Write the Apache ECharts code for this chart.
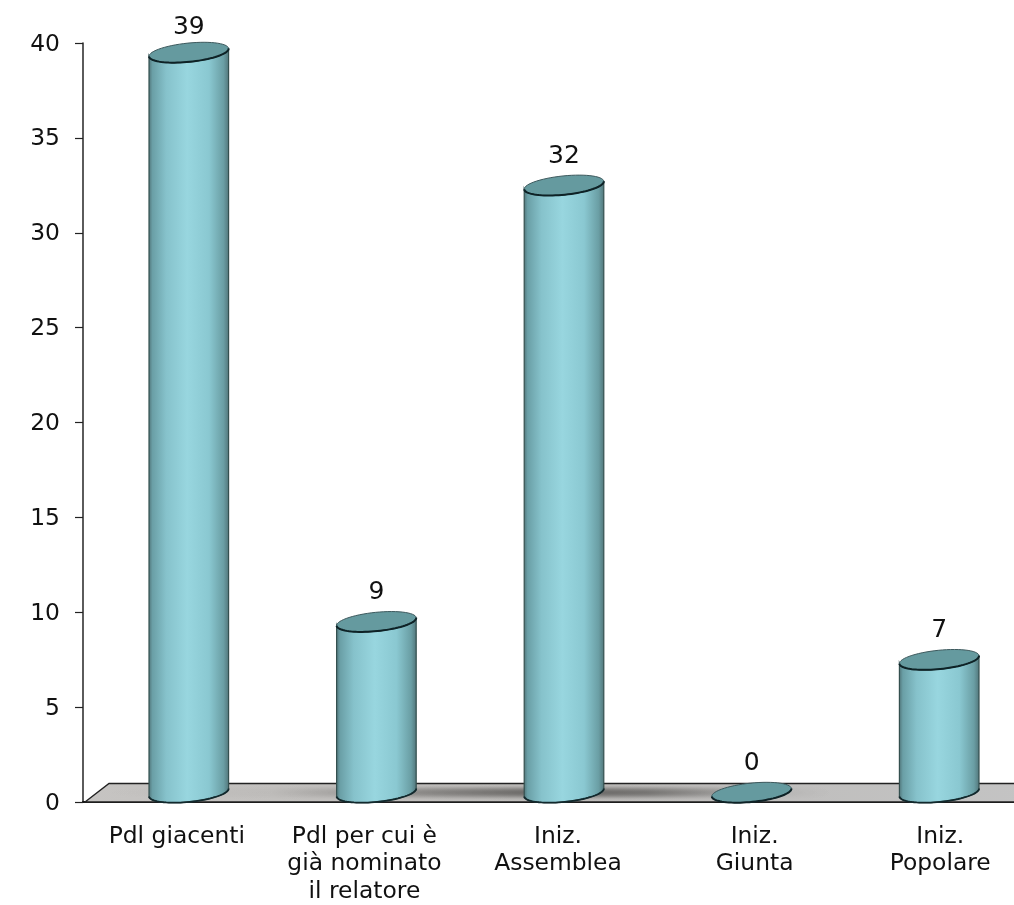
<!DOCTYPE html>
<html><head><meta charset="utf-8">
<style>html,body{margin:0;padding:0;background:#fff;overflow:hidden}#c{width:1014px;height:905px}</style>
<script src="https://cdn.jsdelivr.net/npm/echarts@6/dist/echarts.min.js"></script>
</head><body><div id="c"></div>
<script>
const categories = ['Pdl giacenti', 'Pdl per cui è\ngià nominato\nil relatore', 'Iniz.\nAssemblea', 'Iniz.\nGiunta', 'Iniz.\nPopolare'];
const values = [39, 9, 32, 0, 7];
const labelShift = [0, 0, 6, 15, 13];
const FONT = '"DejaVu Sans", Verdana, sans-serif';
const DX = 12, DY = -9.5, RX = 40, RY = 9.4, TILT = -5.8 * Math.PI / 180;

function ell(cx, cy, from, to, n) {
  const pts = [], c = Math.cos(TILT), s = Math.sin(TILT);
  for (let i = 0; i <= n; i++) {
    const t = from + (to - from) * i / n;
    const x = RX * Math.cos(t), y = RY * Math.sin(t);
    pts.push([cx + x * c - y * s, cy + x * s + y * c]);
  }
  return pts;
}
const body = new echarts.graphic.LinearGradient(0, 0, 1, 0, [
  {offset: 0, color: '#4f7276'}, {offset: 0.05, color: '#6a9fa6'}, {offset: 0.22, color: '#86c2cb'},
  {offset: 0.48, color: '#98d6df'}, {offset: 0.75, color: '#8ac8d1'}, {offset: 0.93, color: '#6a9ea4'}, {offset: 1, color: '#517478'}
]);

function renderCyl(params, api) {
  const v = api.value(1);
  const top = api.coord([api.value(0), v]);
  const bot = api.coord([api.value(0), 0]);
  const cx = top[0] + DX, ty = top[1] + DY, by = bot[1] + DY;
  const children = [];
  if (v > 0) {
    const side = ell(cx, ty, Math.PI, 0, 32).concat(ell(cx, by, 0, Math.PI, 40));
    children.push({type: 'polygon', shape: {points: side}, style: {fill: body, stroke: '#34504f', lineWidth: 1.2}});
    children.push({type: 'polyline', shape: {points: ell(cx, by, 0, Math.PI, 40)}, style: {fill: null, stroke: '#12282c', lineWidth: 1.8}});
  }
  children.push({type: 'polygon', shape: {points: ell(cx, ty, 0, Math.PI * 2, 60)}, style: {fill: '#659a9f', stroke: '#3e5a5e', lineWidth: 1}});
  children.push({type: 'polyline', shape: {points: ell(cx, ty, 0, Math.PI, 40)}, style: {fill: null, stroke: '#0e2226', lineWidth: 2}});
  children.push({type: 'text', x: cx, y: Math.max(ty - 29, 27), style: {text: String(v), fill: '#111', font: '25px ' + FONT, align: 'center', verticalAlign: 'middle'}});
  return {type: 'group', children};
}
function renderFloor(params, api) {
  const r = params.coordSys, b = r.y + r.height, x0 = r.x + 2, x1 = r.x + r.width;
  const children = [
    {type: 'polygon', shape: {points: [[x0, b], [x0 + 24, b - 18.5], [x1 + 24, b - 18.5], [x1, b]]},
     style: {fill: new echarts.graphic.LinearGradient(0, 0, 1, 0, [
       {offset: 0, color: '#c6c4c2'}, {offset: 0.5, color: '#bcbab8'}, {offset: 1, color: '#c4c4c4'}]),
       stroke: '#222', lineWidth: 1.4}}
  ];
  // soft shadow across the floor: thin horizontal slices, strongest mid-way up and around x≈560
  const n = 16, bandW = x1 - x0;
  for (let i = 0; i < n; i++) {
    const f = (i + 0.5) / n, a = Math.sin(Math.PI * f);
    const alpha = 0.72 * a * a;
    const col = k => 'rgba(45,43,41,' + (alpha * k).toFixed(3) + ')';
    children.push({type: 'rect', shape: {x: x0, y: b - 17.5 + i, width: bandW, height: 1},
      style: {fill: new echarts.graphic.LinearGradient(0, 0, 1, 0, [
        {offset: 0, color: col(0)}, {offset: 0.2, color: col(0.05)}, {offset: 0.36, color: col(0.55)},
        {offset: 0.5, color: col(1)}, {offset: 0.6, color: col(0.8)}, {offset: 0.72, color: col(0.12)}, {offset: 0.8, color: col(0)}, {offset: 1, color: col(0)}])}});
  }
  return {type: 'group', children};
}
const chart = echarts.init(document.getElementById('c'), null, {renderer: 'canvas'});
chart.setOption({
  animation: false, backgroundColor: '#fff',
  grid: {left: 83, top: 43, width: 938, height: 759, containLabel: false, outerBoundsMode: 'none'},
  xAxis: {type: 'category',
    data: categories.map((c, i) => ({value: c, textStyle: {padding: [0, 0, 0, labelShift[i] * 2]}})),
    axisLine: {lineStyle: {color: '#111', width: 2}},
    axisTick: {length: 8, lineStyle: {color: '#222', width: 1}},
    axisLabel: {color: '#111', fontFamily: FONT, fontSize: 23.4, lineHeight: 27.5, margin: 21, interval: 0}},
  yAxis: {type: 'value', min: 0, max: 40, interval: 5, splitLine: {show: false},
    axisLine: {show: true, lineStyle: {color: '#333', width: 1.6}},
    axisTick: {show: true, length: 8, lineStyle: {color: '#222', width: 1.2}},
    axisLabel: {color: '#111', fontFamily: FONT, fontSize: 23.4, margin: 23, verticalAlign: 'top', lineHeight: 3}},
  series: [
    {type: 'custom', silent: true, clip: false, renderItem: renderFloor, data: [[0, 0]], encode: {x: 0, y: 1}, z: 1},
    {type: 'custom', silent: true, clip: false, renderItem: renderCyl, data: values.map((v, i) => [i, v]), encode: {x: 0, y: 1}, z: 3}
  ]
});
</script></body></html>
